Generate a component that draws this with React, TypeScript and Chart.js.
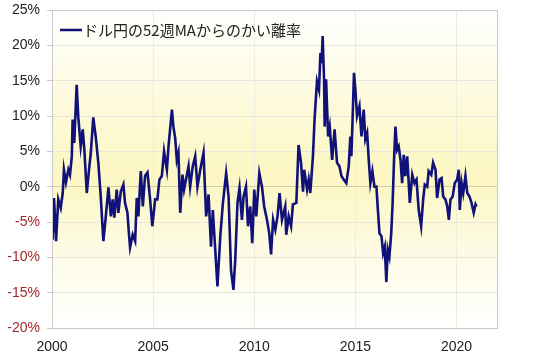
import React, { useEffect, useRef } from "react";
import { Chart, registerables } from "chart.js";

Chart.register(...registerables);

const legendLabel = "ドル円の52週MAからのかい離率";

const years: number[] = [
  2000.03, 2000.1, 2000.2, 2000.31, 2000.43, 2000.53, 2000.59, 2000.69, 2000.81, 2000.89, 2000.98,
  2001.02, 2001.1, 2001.22, 2001.3, 2001.42, 2001.52, 2001.6, 2001.72, 2001.83, 2001.92,
  2002.04, 2002.16, 2002.29, 2002.41, 2002.54, 2002.66, 2002.79, 2002.91,
  2003.0, 2003.08, 2003.2, 2003.28, 2003.4, 2003.53, 2003.61, 2003.73, 2003.8, 2003.86, 2003.99,
  2004.11, 2004.19, 2004.27, 2004.39, 2004.49, 2004.6, 2004.72, 2004.85, 2004.96,
  2005.1, 2005.21, 2005.31, 2005.43, 2005.54, 2005.68, 2005.76, 2005.93,
  2006.0, 2006.09, 2006.17, 2006.25, 2006.34, 2006.45, 2006.53, 2006.67, 2006.75, 2006.83, 2006.96,
  2007.08, 2007.19, 2007.33, 2007.49, 2007.62, 2007.74, 2007.86, 2007.95,
  2008.07, 2008.18, 2008.32, 2008.45, 2008.61, 2008.73, 2008.85, 2008.97,
  2009.06, 2009.17, 2009.27, 2009.39, 2009.47, 2009.59, 2009.69, 2009.8, 2009.9,
  2010.0, 2010.1, 2010.25, 2010.38, 2010.49, 2010.63, 2010.74, 2010.83, 2010.93,
  2011.04, 2011.15, 2011.25, 2011.37, 2011.53, 2011.58, 2011.7, 2011.82, 2011.91,
  2012.08, 2012.19, 2012.31, 2012.41, 2012.47, 2012.61, 2012.69, 2012.77, 2012.9, 2012.98,
  2013.1, 2013.2, 2013.27, 2013.33, 2013.38, 2013.45, 2013.48, 2013.55, 2013.65, 2013.73, 2013.85, 2013.97,
  2014.09, 2014.21, 2014.31, 2014.42, 2014.55, 2014.67, 2014.75, 2014.8, 2014.86, 2014.93,
  2015.0, 2015.08, 2015.2, 2015.3, 2015.41, 2015.49, 2015.58, 2015.66, 2015.74, 2015.84, 2015.94,
  2016.04, 2016.1, 2016.19, 2016.29, 2016.37, 2016.45, 2016.53, 2016.6, 2016.68, 2016.77, 2016.84, 2016.91, 2016.98,
  2017.06, 2017.14, 2017.23, 2017.31, 2017.39, 2017.47, 2017.56, 2017.69, 2017.81, 2017.92,
  2018.02, 2018.13, 2018.25, 2018.35, 2018.43, 2018.55, 2018.62, 2018.75, 2018.84, 2018.96,
  2019.04, 2019.16, 2019.26, 2019.34, 2019.45, 2019.54, 2019.62, 2019.7, 2019.81, 2019.91,
  2020.03, 2020.11, 2020.16, 2020.25, 2020.33, 2020.44, 2020.53, 2020.64, 2020.74, 2020.85, 2020.94, 2020.99,
];

const deviation: number[] = [
  -7.5, -1.6, -7.7, -1.8, -3.0, -0.9, 2.4, 0.6, 2.4, 1.7, 4.3,
  9.5, 6.2, 14.4, 9.8, 5.7, 8.1, 5.2, -0.9, 2.4, 4.8,
  9.8, 7.1, 3.4, -1.4, -7.7, -4.2, -0.1, -4.2,
  -1.8, -4.4, -0.4, -3.7, -0.7, 0.3, -2.3, -3.7, -6.5, -8.6, -6.8,
  -7.7, -1.6, -4.2, 2.2, -2.8, 1.5, 2.0, -1.8, -5.6,
  -1.8, -1.8, 1.0, 1.5, 5.0, 2.4, 5.7, 10.9,
  8.5, 6.9, 3.8, 4.8, -3.7, 1.7, -0.4, 1.7, 2.9, 0.0, 2.9,
  4.3, 0.0, 2.4, 4.8, -4.2, -1.1, -8.5, -3.3,
  -8.9, -14.1, -7.0, -2.3, 1.9, -1.4, -11.8, -14.6,
  -10.3, -2.3, -0.2, -4.7, -1.4, 0.0, -5.6, -2.8, -8.0,
  -0.4, -4.2, 1.9, 0.0, -2.8, -4.7, -6.6, -9.6, -4.7,
  -6.1, -4.2, -0.9, -4.7, -2.8, -6.8, -4.2, -5.6, -2.5,
  -2.3, 5.9, 3.4, -0.7, 2.4, -0.4, 1.0, -0.9, 4.3, 9.5,
  14.9, 13.7, 18.9, 17.5, 21.3, 15.2, 8.5, 15.2, 7.1, 8.5, 3.8, 8.1,
  3.4, 2.9, 1.5, 1.0, 0.5, 2.9, 7.1, 4.3, 9.5, 16.1,
  13.7, 10.0, 11.4, 7.1, 10.9, 6.7, 7.6, 3.8, 0.5, 2.2, 0.0,
  0.0, -2.8, -6.6, -7.0, -9.4, -8.5, -13.5, -8.9, -9.9, -6.6, -2.3, 3.8, 8.5,
  5.2, 5.7, 3.8, 0.5, 4.5, 1.5, 4.3, -2.3, 1.7, 0.5,
  1.0, -3.3, -5.6, -1.8, 0.3, 0.0, 2.2, 1.7, 3.4, 2.4,
  -1.6, 1.0, 1.2, -1.4, -1.8, -2.8, -4.7, -1.8, -1.4, 0.5,
  1.0, 2.4, -3.3, 0.5, -0.9, 1.5, -0.9, -1.4, -2.3, -3.7, -2.5, -2.8,
];

const xTicks: number[] = [2000, 2005, 2010, 2015, 2020];
const xMin = 2000;
const xMax = 2022;
const yMin = -20;
const yMax = 25;
const yStep = 5;

const lineColor = "#11117a";
const font = "'Liberation Sans', Arial, sans-serif";

const backgroundPlugin = {
  id: "bgGradient",
  beforeDraw(chart: any) {
    const { ctx, chartArea } = chart;
    if (!chartArea) return;
    const { left, top, right, bottom } = chartArea;
    const zeroY = chart.scales.y.getPixelForValue(0);
    const g = ctx.createLinearGradient(0, top, 0, bottom);
    const z = (zeroY - top) / (bottom - top);
    g.addColorStop(0, "#ffffff");
    g.addColorStop(Math.max(0, z - 0.08), "#fcf7c6");
    g.addColorStop(z, "#fcf7c4");
    g.addColorStop(Math.min(1, z + 0.2), "#fdfbe4");
    g.addColorStop(1, "#ffffff");
    ctx.save();
    ctx.fillStyle = g;
    ctx.fillRect(left, top, right - left, bottom - top);
    ctx.restore();
  },
  afterDraw(chart: any) {
    const { ctx, chartArea } = chart;
    const { left, top, right, bottom } = chartArea;
    ctx.save();
    ctx.strokeStyle = "#c9c9c9";
    ctx.lineWidth = 1;
    ctx.strokeRect(left + 0.5, top + 0.5, right - left, bottom - top);
    // legend
    const lx = left + 8;
    const ly = top + 20;
    ctx.strokeStyle = lineColor;
    ctx.lineWidth = 2.5;
    ctx.beginPath();
    ctx.moveTo(lx, ly);
    ctx.lineTo(lx + 22, ly);
    ctx.stroke();
    ctx.fillStyle = "#222";
    ctx.font = "15px 'Noto Sans CJK JP', sans-serif";
    ctx.textBaseline = "middle";
    ctx.fillText(chart.data.datasets[0].label, lx + 23, ly);
    ctx.restore();
  },
};

export default function App() {
  const ref = useRef<HTMLCanvasElement | null>(null);

  useEffect(() => {
    document.body.style.margin = "0";
    const canvas = ref.current;
    if (!canvas) return;
    const points = years.map((x, i) => ({ x, y: deviation[i] }));
    const chart = new Chart(canvas, {
      type: "line",
      data: {
        datasets: [
          {
            label: legendLabel,
            data: points,
            borderColor: lineColor,
            borderWidth: 2.6,
            pointRadius: 0,
            tension: 0,
            fill: false,
          },
        ],
      },
      options: {
        animation: false,
        responsive: false,
        devicePixelRatio: 1,
        layout: { padding: { top: 10, right: 43, left: 0, bottom: 0 } },
        plugins: {
          legend: { display: false },
          tooltip: { enabled: false },
        },
        scales: {
          x: {
            type: "linear",
            min: xMin,
            max: xMax,
            border: { display: false },
            grid: { color: "#ebebe0", drawTicks: false },
            afterBuildTicks: (s: any) => {
              s.ticks = xTicks.map((v) => ({ value: v }));
            },
            ticks: {
              padding: 11,
              color: "#222",
              font: { family: font, size: 14 },
              callback: (v: any) => String(v),
              maxRotation: 0,
              autoSkip: false,
            },
            afterFit: (s: any) => {
              s.height = 29;
              s.paddingLeft = 0;
              s.paddingRight = 0;
            },
          },
          y: {
            min: yMin,
            max: yMax,
            border: { display: false },
            grid: {
              color: (c: any) => (c.tick && c.tick.value === 0 ? "#d2cca8" : "#e6e6dc"),
              tickLength: 5,
              tickColor: "#c9c9c9",
            },
            ticks: {
              stepSize: yStep,
              padding: 7,
              color: (c: any) => (c.tick && c.tick.value < 0 ? "#a3282a" : "#222"),
              font: { family: font, size: 14 },
              callback: (v: any) => `${v}%`,
            },
            afterFit: (s: any) => {
              s.width = 52;
              s.paddingTop = 0;
              s.paddingBottom = 0;
            },
          },
        },
      },
      plugins: [backgroundPlugin],
    });
    return () => chart.destroy();
  }, []);

  return (
    <div style={{ position: "absolute", left: 0, top: 0, width: 540, height: 357 }}>
      <canvas ref={ref} width={540} height={357} style={{ display: "block" }} />
    </div>
  );
}
